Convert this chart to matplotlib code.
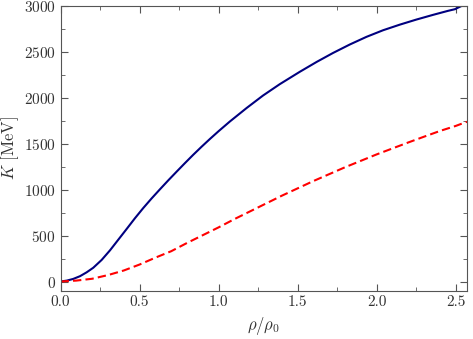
import matplotlib
matplotlib.use('Agg')
import matplotlib.pyplot as plt
from matplotlib.ticker import MultipleLocator, FormatStrFormatter

# ================= data =================
rho_blue = [0.0, 0.04, 0.08, 0.123, 0.165, 0.207, 0.26, 0.313, 0.365, 0.418,
            0.47, 0.523, 0.576, 0.629, 0.682, 0.735, 0.787, 0.839, 0.892,
            0.945, 1.0, 1.071, 1.177, 1.28, 1.387, 1.514, 1.62, 1.724, 1.83,
            1.935, 2.04, 2.146, 2.25, 2.357, 2.45, 2.494, 2.57]
K_blue = [0, 10, 28, 58, 100, 150, 235, 340, 455, 572,
          688, 800, 905, 1005, 1103, 1198, 1290, 1380, 1468,
          1553, 1638, 1743, 1890, 2025, 2150, 2285, 2392, 2490, 2582,
          2665, 2737, 2798, 2853, 2905, 2948, 2966, 3030]

rho_red = [0.0, 0.1, 0.2, 0.3, 0.4, 0.5, 0.6, 0.7, 0.8, 0.9, 1.0, 1.1, 1.2,
           1.3, 1.4, 1.5, 1.6, 1.7, 1.8, 1.9, 2.0, 2.1, 2.2, 2.3, 2.4, 2.5, 2.57]
K_red = [0, 10, 30, 70, 120, 185, 260, 330, 420, 505, 590, 680, 765,
         850, 935, 1015, 1095, 1170, 1245, 1315, 1385, 1450, 1515, 1578,
         1640, 1695, 1740]

# ================= style =================
plt.rcParams.update({
    'font.family': 'serif',
    'font.serif': ['cmr10', 'DejaVu Serif'],
    'mathtext.fontset': 'cm',
    'axes.formatter.use_mathtext': True,
    'font.size': 11,
    'axes.unicode_minus': False,
})

fig = plt.figure(figsize=(4.73, 3.39), dpi=100)
ax = fig.add_axes([0.128, 0.1425, 0.859, 0.8395])

ax.plot(rho_blue, K_blue, '-', color='#000080', lw=1.5)
ax.plot(rho_red, K_red, '--', color='#ff0000', lw=1.5, dashes=(4, 2))

ax.set_xlim(0, 2.57)
ax.set_ylim(-100, 3000)
ax.xaxis.set_major_locator(MultipleLocator(0.5))
ax.xaxis.set_minor_locator(MultipleLocator(0.25))
ax.yaxis.set_major_locator(MultipleLocator(500))
ax.yaxis.set_minor_locator(MultipleLocator(250))
ax.xaxis.set_major_formatter(FormatStrFormatter('%.1f'))

grey = '#555555'
for s in ax.spines.values():
    s.set_color(grey)
    s.set_linewidth(0.8)
ax.tick_params(which='both', direction='in', top=True, right=True,
               color=grey, labelcolor='#333333', labelsize=11)
ax.tick_params(which='major', length=5)
ax.tick_params(which='minor', length=3)

ax.set_xlabel(r'$\rho/\rho_0$', fontsize=12, color='#333333', labelpad=4)
ax.set_ylabel(r'$K$ [MeV]', fontsize=12, color='#333333', labelpad=2)

fig.savefig('out.png', dpi=100)
